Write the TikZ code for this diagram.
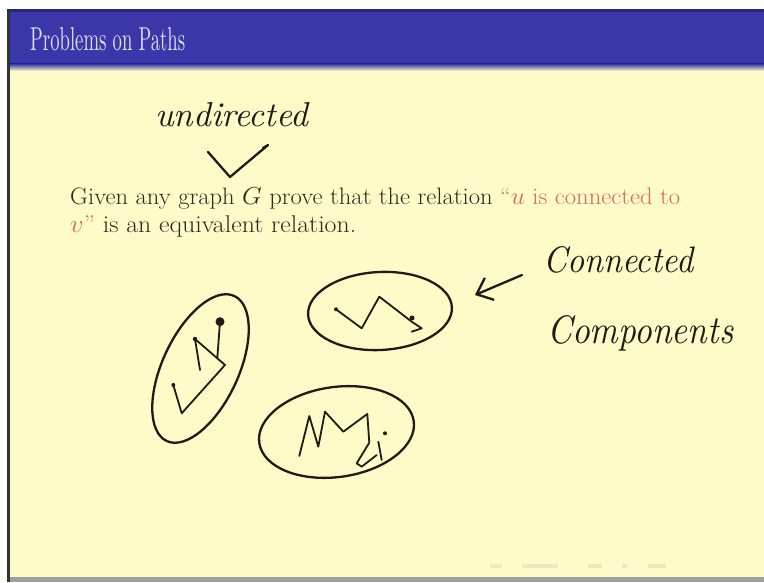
\documentclass[tikz,border=0pt]{standalone}
\usepackage{graphicx}
\usetikzlibrary{arrows.meta}
\definecolor{ink}{RGB}{30,28,20}
\definecolor{slideyellow}{RGB}{255,251,200}
\definecolor{titleblue}{RGB}{58,56,168}
\definecolor{titledark}{RGB}{40,38,120}
\definecolor{titletext}{RGB}{222,222,246}
\definecolor{bodytext}{RGB}{45,43,32}
\definecolor{alertred}{RGB}{218,105,88}
\definecolor{navgray}{RGB}{236,232,192}
\begin{document}
\begin{tikzpicture}[x=1pt,y=1pt,
  hand/.style={draw=ink,line width=2.3pt,line cap=round,line join=round},
  handtext/.style={text=ink,inner sep=0pt,anchor=base west,font=\itshape},
  bodyline/.style={text=bodytext,inner sep=0pt,anchor=base west,font=\fontsize{24}{28}\selectfont},
  navmark/.style={fill=navgray,draw=none}]
\useasboundingbox (0,0) rectangle (764,582);
% page background
\fill[white] (0,0) rectangle (764,582);
\fill[slideyellow] (8,5) rectangle (764,573);
% title bar
\fill[titleblue] (8,518) rectangle (764,573);
\fill[titledark] (8,570) rectangle (764,573);
\shade[top color=titleblue,bottom color=slideyellow] (8,511) rectangle (764,518);
% borders
\fill[black!80] (7,0) rectangle (9.5,573);
\fill[gray!75] (9.5,0) rectangle (764,5);
% title
\node[anchor=base west,inner sep=0pt,text=titletext] (title) at (30,531)
  {\resizebox{155pt}{23pt}{Problems on Paths}};
% body text
\node[bodyline] (line1) at (70,377)
  {\resizebox{610pt}{16.8pt}{Given any graph $G$ prove that the relation \textcolor{alertred}{``$u$ is connected to}}};
\node[bodyline] (line2) at (70,349)
  {\resizebox{286pt}{16.8pt}{\textcolor{alertred}{$v$''} is an equivalent relation.}};
% handwritten notes
\node[handtext] (undir) at (155,455) {\resizebox{153pt}{24pt}{undirected}};
\coordinate (chkA) at (208,430);
\coordinate (chkB) at (230,405);
\coordinate (chkC) at (268,437);
\draw[hand] (chkA) -- (chkB) -- (chkC) -- (263,434);
\node[handtext] (conn) at (543,309) {\resizebox{150pt}{26pt}{Connected}};
\node[handtext] (comp) at (547,239) {\resizebox{186pt}{28pt}{Components}};
\coordinate (atail) at (522,307);
\coordinate (ahead) at (475,287);
\draw[hand,-{Straight Barb[length=14pt,width=24pt,line width=2.3pt]}] (atail) -- (ahead);
% component 1
\draw[hand] (200.5,213.5) ellipse [x radius=80, y radius=38, rotate=65];
\draw[hand,line width=1.8pt] (200,212) -- (195,243) -- (217.3,223.7) -- (220,260.3);
\draw[hand,line width=1.8pt] (217.3,223.7) -- (225,217) -- (181.7,168.7) -- (173.3,197);
\fill[ink] (220,260.3) circle (4.5);
\fill[ink] (195,243) circle (2.2);
\fill[ink] (173.3,197) circle (2);
% component 2
\draw[hand] (380,271) ellipse [x radius=72, y radius=39, rotate=3];
\draw[hand,line width=1.8pt] (336,272.7) -- (361.7,253.7) -- (379.3,285.3) -- (411.7,260.3) -- (421.7,253.7) -- (411.7,250.3);
\fill[ink] (336,272.7) circle (2);
\fill[ink] (412,264) circle (2.5);
% component 3
\draw[hand] (336.5,150) ellipse [x radius=78, y radius=45, rotate=8];
\draw[hand,line width=1.8pt] (299.3,126) -- (309.3,166) -- (318.3,135.3) -- (325,170.3) -- (343.3,150.3) -- (367.3,168)
  -- (369.3,139.3) -- (356.7,118.7) -- (361.7,115.3) -- (376.7,127);
\draw[hand,line width=1.8pt] (378.3,140.3) -- (381.7,122);
\fill[ink] (385,148.7) circle (2);
% faint navigation symbols
\fill[navmark] (490,14) rectangle (502,18);
\fill[navmark] (522,14) rectangle (558,18);
\fill[navmark] (588,14) rectangle (602,18);
\fill[navmark] (622,14) rectangle (627,18);
\fill[navmark] (648,14) rectangle (666,18);
\end{tikzpicture}
\end{document}
